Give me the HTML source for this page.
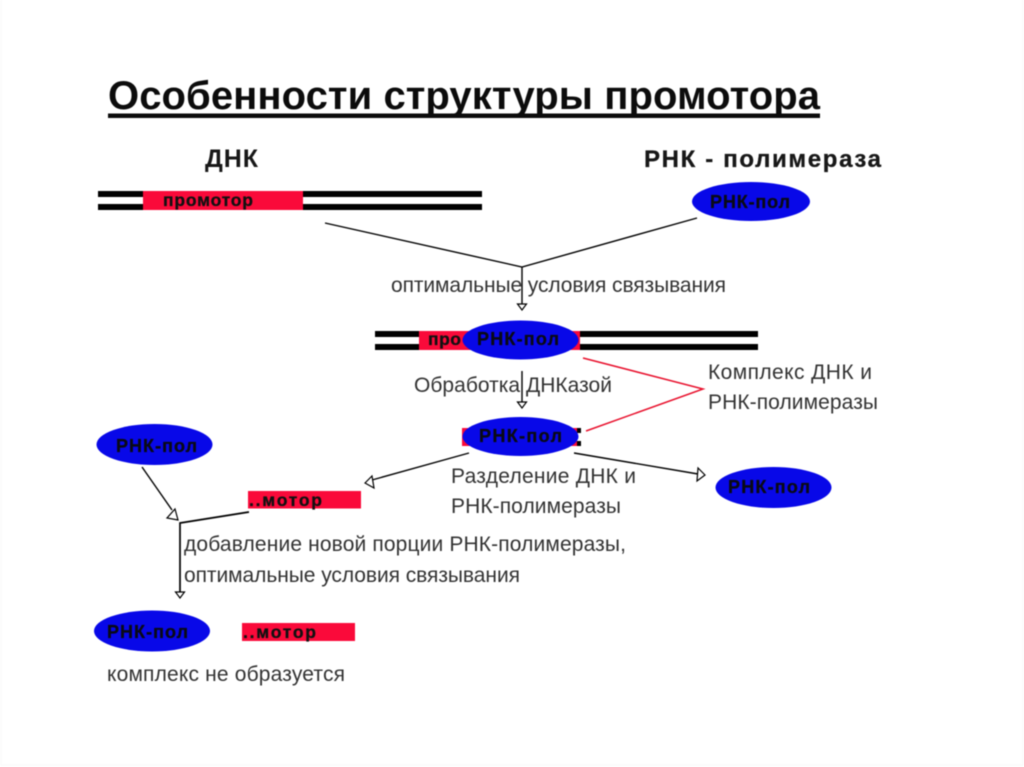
<!DOCTYPE html>
<html>
<head>
<meta charset="utf-8">
<style>
html,body{margin:0;padding:0;background:#fff;width:1024px;height:767px;overflow:hidden}
svg{display:block;filter:blur(.5px)}
text{font-family:"Liberation Sans",sans-serif}
.b{font-weight:bold;fill:#0a0a14;font-size:18px;stroke:#0a0a14;stroke-width:.3}
.m{font-weight:bold;fill:#111;font-size:17.5px;stroke:#111;stroke-width:.3}
.t{fill:#333;font-size:21px}
.l{stroke:#000;stroke-width:1.4;fill:none}
.a{stroke:#000;stroke-width:1.2;fill:#fff}
</style>
</head>
<body>
<svg width="1024" height="767" viewBox="0 0 1024 767" xmlns="http://www.w3.org/2000/svg">
<rect x="0" y="0" width="1024" height="767" fill="#fff"/>
<rect x="1" y="-2" width="1022" height="767" fill="none" stroke="#f9f9f9" stroke-width="1"/>
<text x="108" y="109" font-size="40" font-weight="bold" fill="#0c0c0c" textLength="712" lengthAdjust="spacing">Особенности структуры промотора</text>
<rect x="108" y="113.5" width="712" height="4.5" fill="#0c0c0c"/>

<text x="205" y="167" font-size="25" font-weight="bold" fill="#181818" textLength="53" lengthAdjust="spacing">ДНК</text>
<text x="644" y="167" font-size="24" font-weight="bold" fill="#181818" stroke="#181818" stroke-width=".3" textLength="237" lengthAdjust="spacing">РНК - полимераза</text>

<!-- top DNA -->
<rect x="98" y="191" width="384" height="6" fill="#000"/>
<rect x="98" y="204" width="384" height="6" fill="#000"/>
<rect x="143" y="191" width="160" height="19" fill="#fa0a3a"/>
<text x="163" y="206" class="m" textLength="90" lengthAdjust="spacing">промотор</text>

<ellipse cx="751" cy="201.5" rx="59" ry="19.5" fill="#0808e8"/>
<text x="710" y="208" class="b" textLength="80" lengthAdjust="spacing">РНК-пол</text>

<!-- converging lines -->
<polyline class="l" points="325,223 522,267 697,218"/>
<line class="l" x1="522" y1="267" x2="522" y2="304"/>
<polygon class="a" points="517.5,304 526.5,304 522,310"/>
<text x="391" y="292" class="t" textLength="335" lengthAdjust="spacing">оптимальные условия связывания</text>

<!-- second DNA -->
<rect x="375" y="331" width="383" height="6" fill="#000"/>
<rect x="375" y="344" width="383" height="6" fill="#000"/>
<rect x="419" y="331" width="161" height="19" fill="#fa0a3a"/>
<text x="428" y="345" class="m" textLength="33" lengthAdjust="spacing">про</text>
<ellipse cx="520.5" cy="340" rx="58" ry="19.5" fill="#0808e8"/>
<text x="477" y="345" class="b" textLength="82" lengthAdjust="spacing">РНК-пол</text>

<!-- DNase -->
<text x="414" y="392" class="t" textLength="198" lengthAdjust="spacing">Обработка ДНКазой</text>
<line class="l" x1="522" y1="371" x2="522" y2="402"/>
<polygon class="a" points="517.5,402 526.5,402 522,408"/>

<!-- red lines -->
<polyline points="583,358 703,389 586,431" fill="none" stroke="#e8102c" stroke-width="1.5"/>
<text x="708" y="379" class="t" textLength="164" lengthAdjust="spacing">Комплекс ДНК и</text>
<text x="708" y="409" class="t" textLength="170" lengthAdjust="spacing">РНК-полимеразы</text>

<!-- third ellipse -->
<rect x="462" y="428" width="8" height="5" fill="#fa0a3a"/>
<rect x="462" y="441" width="8" height="5" fill="#fa0a3a"/>
<rect x="462" y="433" width="2" height="8" fill="#fa0a3a"/>
<rect x="571" y="428" width="6" height="5" fill="#fa0a3a"/>
<rect x="571" y="441" width="6" height="5" fill="#fa0a3a"/>
<rect x="577" y="428" width="4" height="5" fill="#000"/>
<rect x="577" y="441" width="4" height="5" fill="#000"/>
<ellipse cx="520.5" cy="436.5" rx="58" ry="19.5" fill="#0808e8"/>
<text x="479" y="442" class="b" textLength="83" lengthAdjust="spacing">РНК-пол</text>

<!-- separation arrows -->
<line class="l" x1="469" y1="453" x2="372" y2="480"/>
<polygon class="a" points="365,483 372,476 374,488"/>
<line class="l" x1="574" y1="453" x2="698" y2="474"/>
<polygon class="a" points="705,475 698,468 697,481"/>
<text x="451" y="483" class="t" textLength="185" lengthAdjust="spacing">Разделение ДНК и</text>
<text x="451" y="513" class="t" textLength="170" lengthAdjust="spacing">РНК-полимеразы</text>

<ellipse cx="773.5" cy="487.5" rx="58" ry="20.5" fill="#0808e8"/>
<text x="728" y="493" class="b" textLength="82" lengthAdjust="spacing">РНК-пол</text>

<ellipse cx="154.5" cy="444.5" rx="58" ry="20.5" fill="#0808e8"/>
<text x="116" y="452" class="b" textLength="81" lengthAdjust="spacing">РНК-пол</text>

<rect x="248" y="491" width="113" height="17.5" fill="#fa0a3a"/>
<text x="249" y="506" class="m" textLength="73" lengthAdjust="spacing">..мотор</text>

<line class="l" x1="142" y1="467" x2="172" y2="510"/>
<polygon class="a" points="178,520 167,518 175,509"/>
<polyline points="249,512 180,523 180,592" fill="none" stroke="#000" stroke-width="1.7"/>
<polygon class="a" points="175.5,592 184.5,592 180,598"/>

<text x="184" y="551" class="t" textLength="442" lengthAdjust="spacing">добавление новой порции РНК-полимеразы,</text>
<text x="184" y="582" class="t" textLength="336" lengthAdjust="spacing">оптимальные условия связывания</text>

<ellipse cx="152" cy="631" rx="58" ry="20.5" fill="#0808e8"/>
<text x="107" y="638" class="b" textLength="81" lengthAdjust="spacing">РНК-пол</text>

<rect x="242" y="623" width="113" height="18" fill="#fa0a3a"/>
<text x="243" y="638" class="m" textLength="73" lengthAdjust="spacing">..мотор</text>

<text x="107" y="681" class="t" textLength="238" lengthAdjust="spacing">комплекс не образуется</text>
</svg>
</body>
</html>
